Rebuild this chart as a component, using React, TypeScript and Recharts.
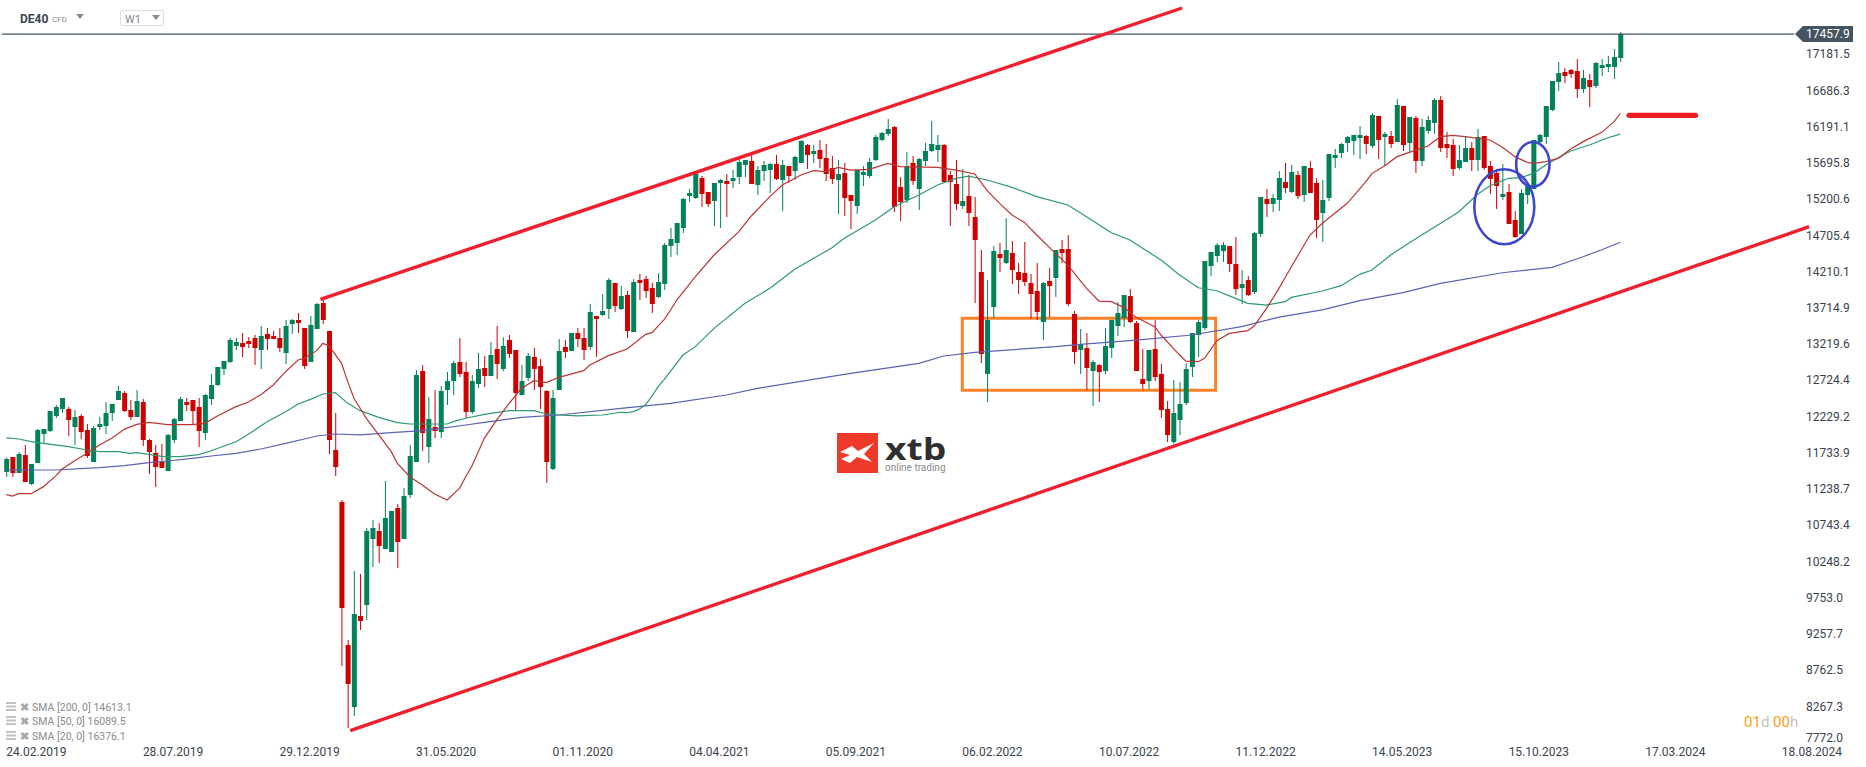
import { Bar, ComposedChart, Line, ReferenceArea, ReferenceDot, ReferenceLine, XAxis, YAxis } from "recharts";

const WIDTH = 1866;
const HEIGHT = 767;

// weekly DE40 candles
const opens = [
  11474, 11679, 11460, 11706, 11310, 11597, 11993, 12034, 12239, 12335,
  12335, 12089, 12239, 12048, 11611, 12089, 12103, 12280, 12458, 12553,
  12321, 12225, 12430, 11911, 11734, 11611, 11488, 11911, 12171, 12430,
  12458, 12362, 12007, 12471, 12663, 12881, 12977, 13196, 13237, 13264,
  13305, 13141, 13360, 13332, 13305, 13100, 13496, 13551, 13442, 12977,
  13428, 13783, 13401, 11775, 11064, 9110, 8262, 9506, 9656, 10558,
  10668, 10422, 10381, 10982, 10558, 11160, 11610, 12854, 11815, 12089,
  12020, 12594, 12717, 12977, 12841, 12294, 12676, 12895, 12786, 13155,
  12882, 13278, 13141, 12526, 12759, 13046, 12922, 12581, 11515, 12594,
  13182, 13127, 13373, 13305, 13182, 13606, 13619, 13701, 14057, 13701,
  13893, 13387, 14098, 14111, 13988, 13865, 14043, 14562, 14603, 14808,
  15245, 15218, 15491, 15300, 15177, 15423, 15450, 15450, 15505, 15669,
  15724, 15396, 15587, 15601, 15683, 15464, 15655, 15587, 15696, 15942,
  15819, 15874, 15765, 15628, 15464, 15560, 15259, 15108, 15532, 15519,
  15737, 16011, 16093, 16188, 15368, 15191, 15696, 15341, 15724, 15860,
  15874, 15942, 15532, 15409, 15108, 15245, 14958, 14207, 12813, 13728,
  14453, 14330, 14466, 14207, 14193, 14056, 13947, 13523, 14083, 14125,
  14521, 14521, 13633, 13141, 13168, 12854, 12936, 12854, 13168, 13468,
  13578, 13878, 13509, 12744, 12717, 13154, 12813, 12334, 11883, 12184,
  12416, 12908, 13346, 13441, 14288, 14425, 14493, 14562, 14316, 13988,
  14097, 13933, 14726, 15205, 15136, 15191, 15437, 15300, 15532, 15259,
  15628, 15423, 15013, 15218, 15765, 15833, 15970, 15997, 16038, 16065,
  15929, 16339, 16052, 16065, 15983, 16475, 15970, 16311, 15724, 16134,
  16243, 16557, 15956, 15942, 15628, 15710, 15901, 15737, 16065, 15655,
  15560, 15232, 15300, 14917, 14726, 15259, 15341, 15983, 16052, 16420,
  16803, 16940, 16967, 16953, 16707, 16830, 16748, 16994, 17008, 17008,
  17131,
];
const highs = [
  11674, 11679, 11747, 11843, 11583, 12062, 12062, 12307, 12390, 12485,
  12362, 12321, 12266, 12130, 12103, 12225, 12430, 12403, 12649, 12581,
  12458, 12594, 12471, 11925, 11843, 11857, 11993, 12212, 12499, 12485,
  12458, 12485, 12540, 12813, 12909, 12991, 13305, 13305, 13373, 13319,
  13346, 13469, 13442, 13401, 13442, 13551, 13565, 13647, 13442, 13606,
  13783, 13824, 13401, 12280, 11091, 9178, 10121, 10080, 10709, 10818,
  10777, 11351, 10941, 11037, 11255, 11843, 12868, 12936, 12499, 12594,
  12649, 12841, 12991, 13305, 12977, 12799, 13100, 13059, 13250, 13469,
  13314, 13346, 13141, 12936, 13100, 13169, 13018, 12594, 12594, 13291,
  13278, 13373, 13442, 13442, 13770, 13606, 13906, 14125, 14057, 14016,
  13947, 14111, 14180, 14152, 14057, 14193, 14603, 14808, 14876, 15218,
  15341, 15573, 15519, 15300, 15423, 15478, 15546, 15601, 15765, 15737,
  15806, 15655, 15724, 15696, 15806, 15737, 15655, 15792, 16011, 15956,
  15942, 16011, 15956, 15792, 15737, 15696, 15259, 15600, 15655, 15765,
  16079, 16120, 16298, 16202, 15505, 15847, 15792, 15765, 15970, 16270,
  16079, 15956, 15587, 15737, 15614, 15532, 15232, 14507, 14097, 14562,
  14603, 14945, 14630, 14330, 14617, 14180, 14330, 14070, 14261, 14507,
  14644, 14712, 13674, 13428, 13373, 13004, 12949, 13441, 13550, 13796,
  13892, 13974, 13537, 13154, 13141, 13550, 12949, 12444, 12731, 12703,
  12963, 13373, 13550, 14357, 14480, 14603, 14616, 14562, 14685, 14234,
  14152, 14753, 15232, 15341, 15273, 15587, 15696, 15669, 15587, 15655,
  15724, 15491, 15464, 15819, 15888, 15970, 16065, 16079, 16202, 16079,
  16380, 16339, 16120, 16134, 16571, 16475, 16325, 16339, 16298, 16339,
  16584, 16612, 16120, 16024, 15942, 16065, 15983, 16161, 16065, 15724,
  15614, 15683, 15409, 15040, 15341, 15396, 16011, 16093, 16475, 16817,
  17076, 16994, 16981, 17117, 16967, 16912, 17076, 17117, 17158, 17254,
  17486,
];
const lows = [
  11406, 11406, 11460, 11337, 11296, 11597, 11870, 12021, 12212, 12280,
  11966, 11843, 11925, 11665, 11611, 12048, 11993, 12171, 12458, 12294,
  12184, 12225, 11829, 11447, 11269, 11529, 11488, 11870, 12171, 12307,
  12130, 11816, 11911, 12390, 12649, 12799, 12963, 13141, 13045, 13168,
  12936, 12881, 13141, 13291, 13114, 12950, 13360, 13373, 12881, 12977,
  13428, 13496, 11720, 11419, 8823, 7976, 8140, 9315, 9451, 10176,
  10230, 10422, 10381, 10162, 10558, 11119, 11610, 11761, 11597, 11938,
  11938, 12390, 12526, 12772, 12212, 12267, 12622, 12635, 12786, 12745,
  12854, 13032, 12321, 12526, 12717, 12594, 12335, 11324, 11501, 12594,
  13032, 13127, 13182, 13004, 13141, 13045, 13606, 13565, 13660, 13688,
  13305, 13387, 13824, 13852, 13647, 13852, 13961, 14412, 14439, 14740,
  15163, 15204, 15095, 15095, 14835, 14808, 14958, 15355, 15409, 15505,
  15409, 15259, 15450, 15286, 15464, 15040, 15423, 15464, 15696, 15614,
  15696, 15628, 15450, 15409, 14999, 14972, 14794, 14999, 15382, 15491,
  15724, 15997, 16065, 15027, 14904, 15150, 15396, 15054, 15655, 15847,
  15710, 15437, 14835, 15054, 15068, 14835, 13783, 12963, 12430, 13578,
  14207, 14316, 14043, 13906, 14015, 13574, 13551, 13277, 13592, 13865,
  14330, 13742, 12950, 12813, 12594, 12375, 12430, 12813, 13031, 13332,
  13455, 13509, 12854, 12608, 12608, 12717, 12211, 11883, 11856, 11979,
  12389, 12772, 13045, 13414, 14152, 14343, 14343, 14206, 13892, 13769,
  13878, 13906, 14685, 14959, 15027, 15041, 15286, 15286, 15205, 15164,
  15286, 14672, 14617, 15177, 15628, 15765, 15847, 15806, 15751, 15819,
  15901, 15751, 15655, 15901, 15983, 15860, 15833, 15560, 15655, 16093,
  16093, 15847, 15765, 15519, 15601, 15710, 15587, 15587, 15601, 15273,
  15068, 15191, 14863, 14671, 14726, 15136, 15341, 15970, 15956, 16407,
  16680, 16789, 16858, 16584, 16653, 16461, 16721, 16885, 16940, 16844,
  17076,
];
const closes = [
  11652, 11460, 11720, 11337, 11583, 12048, 12062, 12307, 12362, 12485,
  12184, 12225, 12021, 11693, 12075, 12130, 12280, 12403, 12581, 12307,
  12225, 12444, 11911, 11747, 11542, 11529, 11980, 12198, 12471, 12390,
  12307, 12034, 12526, 12663, 12909, 12991, 13278, 13250, 13182, 13223,
  13168, 13332, 13291, 13291, 13168, 13469, 13551, 13510, 12922, 13483,
  13770, 13551, 11911, 11542, 9615, 8577, 9533, 9438, 10668, 10709,
  10463, 10845, 10941, 10517, 11146, 11692, 12799, 12007, 12198, 12034,
  12581, 12717, 12963, 12813, 12294, 12717, 12882, 12786, 13073, 12950,
  13196, 13087, 12553, 12717, 13059, 12882, 12635, 11610, 12485, 13127,
  13114, 13373, 13291, 13141, 13660, 13565, 13674, 14098, 13742, 13879,
  13401, 14070, 14057, 13947, 13770, 14070, 14576, 14658, 14876, 15204,
  15286, 15546, 15273, 15136, 15423, 15464, 15409, 15491, 15710, 15737,
  15409, 15601, 15669, 15683, 15478, 15669, 15519, 15778, 15997, 15806,
  15860, 15751, 15546, 15478, 15546, 15218, 15177, 15600, 15573, 15710,
  16052, 16106, 16161, 15095, 15163, 15655, 15450, 15751, 15860, 15956,
  15942, 15437, 15437, 15136, 15177, 15013, 14644, 13086, 13551, 14494,
  14398, 14507, 14234, 14097, 14070, 13906, 13660, 14056, 14015, 14507,
  14466, 13769, 13113, 13222, 12895, 12977, 12840, 13195, 13550, 13646,
  13892, 13523, 12854, 12676, 13141, 12772, 12321, 11979, 12280, 12403,
  12881, 13373, 13523, 14357, 14480, 14575, 14575, 14316, 13974, 14042,
  13892, 14739, 15232, 15136, 15218, 15491, 15355, 15573, 15245, 15655,
  15286, 14918, 15191, 15819, 15806, 15956, 16052, 16079, 16079, 15956,
  16352, 16011, 16093, 15956, 16489, 15942, 16325, 15724, 16188, 16284,
  16557, 15901, 15901, 15614, 15737, 15901, 15737, 16052, 15628, 15478,
  15382, 15273, 14863, 14685, 15286, 15396, 16011, 16079, 16475, 16817,
  16926, 16885, 16912, 16707, 16858, 16735, 17063, 17035, 17049, 17145,
  17458,
];

// moving averages: candle index and the value read there
const sma20Index = [0, 1, 2, 4, 6, 8, 9, 11, 13, 15, 17, 19, 21, 23, 26, 30, 32, 34, 37, 39, 41, 43, 45, 47, 48, 50, 51, 52, 54, 55, 56, 58, 60, 62, 63, 65, 67, 69, 71, 73, 74, 75, 77, 79, 81, 83, 85, 87, 89, 93, 94, 97, 100, 103, 104, 106, 107, 108, 111, 114, 118, 120, 123, 125, 128, 130, 132, 134, 136, 139, 142, 144, 150, 153, 156, 158, 160, 162, 164, 166, 169, 171, 173, 174, 176, 178, 180, 182, 185, 186, 189, 190, 192, 193, 195, 197, 200, 201, 203, 205, 207, 210, 212, 214, 216, 219, 220, 222, 224, 226, 229, 231, 233, 235, 239, 241, 243, 245, 246, 248, 250, 252, 254, 257, 259, 260];
const sma20Values = [11164, 11146, 11178, 11178, 11274, 11424, 11515, 11629, 11729, 11843, 11934, 12057, 12125, 12153, 12121, 12121, 12139, 12239, 12367, 12431, 12531, 12663, 12845, 13004, 13027, 13132, 13232, 13196, 12959, 12709, 12481, 12207, 11980, 11752, 11593, 11410, 11297, 11174, 11092, 11251, 11410, 11556, 11934, 12185, 12413, 12618, 12722, 12695, 12768, 12859, 12936, 13064, 13155, 13355, 13378, 13560, 13688, 13824, 14143, 14439, 14758, 14972, 15236, 15396, 15532, 15592, 15578, 15637, 15600, 15610, 15692, 15646, 15637, 15600, 15546, 15318, 15145, 14985, 14885, 14712, 14462, 14302, 14088, 13983, 13810, 13801, 13724, 13587, 13459, 13346, 13072, 12990, 12981, 13027, 13268, 13368, 13405, 13468, 13710, 13983, 14279, 14712, 14872, 15009, 15145, 15441, 15555, 15655, 15783, 15842, 15929, 16056, 16074, 16056, 16011, 15910, 15783, 15705, 15692, 15714, 15760, 15888, 15988, 16115, 16261, 16376];
const sma50Index = [0, 2, 4, 6, 10, 13, 15, 18, 20, 21, 23, 25, 28, 31, 33, 37, 39, 42, 45, 47, 49, 51, 53, 55, 57, 60, 63, 65, 71, 72, 74, 77, 81, 85, 87, 89, 92, 96, 99, 100, 101, 102, 103, 104, 105, 106, 109, 111, 114, 119, 123, 127, 133, 135, 140, 143, 147, 150, 153, 155, 158, 162, 166, 171, 174, 178, 181, 186, 189, 192, 195, 198, 200, 203, 206, 207, 212, 215, 218, 220, 223, 226, 228, 231, 234, 237, 239, 242, 244, 246, 248, 250, 252, 255, 258, 260];
const sma50Values = [11939, 11925, 11888, 11866, 11820, 11775, 11752, 11752, 11729, 11738, 11715, 11688, 11683, 11711, 11765, 11888, 11989, 12162, 12298, 12403, 12467, 12540, 12558, 12412, 12312, 12221, 12148, 12130, 12130, 12162, 12208, 12262, 12312, 12312, 12267, 12253, 12240, 12253, 12290, 12284, 12300, 12335, 12395, 12510, 12640, 12740, 13072, 13187, 13437, 13779, 13984, 14243, 14539, 14667, 14917, 15099, 15259, 15395, 15487, 15518, 15464, 15364, 15236, 15122, 14963, 14744, 14644, 14370, 14165, 13992, 13951, 13847, 13778, 13755, 13801, 13860, 13947, 14020, 14175, 14234, 14438, 14607, 14712, 14871, 15031, 15268, 15386, 15487, 15496, 15555, 15669, 15769, 15860, 15942, 16042, 16090];
const sma200Index = [0, 8, 15, 19, 23, 26, 31, 33, 37, 41, 45, 48, 50, 53, 57, 62, 67, 70, 74, 77, 83, 89, 99, 107, 116, 121, 136, 147, 151, 156, 169, 173, 182, 191, 199, 205, 212, 218, 225, 231, 241, 249, 254, 257, 260];
const sma200Values = [11501, 11501, 11533, 11561, 11601, 11624, 11670, 11693, 11729, 11788, 11866, 11925, 11966, 11993, 11980, 12012, 12039, 12071, 12116, 12153, 12221, 12253, 12344, 12412, 12526, 12617, 12822, 12959, 13059, 13109, 13186, 13218, 13277, 13346, 13460, 13590, 13690, 13815, 13924, 14052, 14197, 14270, 14416, 14510, 14613];

const priceTicks = [17457.9, 17181.5, 16686.3, 16191.1, 15695.8, 15200.6, 14705.4, 14210.1, 13714.9, 13219.6, 12724.4, 12229.2, 11733.9, 11238.7, 10743.4, 10248.2, 9753.0, 9257.7, 8762.5, 8267.3, 7772.0];
const LAST_PRICE = 17457.9;
const dateTicks = [0, 22, 44, 66, 88, 110, 132, 154, 176, 198, 220, 242, 264, 286];
const dateLabels = ["24.02.2019", "28.07.2019", "29.12.2019", "31.05.2020", "01.11.2020", "04.04.2021", "05.09.2021", "06.02.2022", "10.07.2022", "11.12.2022", "14.05.2023", "15.10.2023", "17.03.2024", "18.08.2024"];
const legendRows = [
  ["SMA [200, 0]", "14613.1"],
  ["SMA [50, 0]", "16089.5"],
  ["SMA [20, 0]", "16376.1"],
];

// drawn annotations, in candle index / price
const priceLine = [{ x: -0.7, y: LAST_PRICE }, { x: 288, y: LAST_PRICE }];
const upperChannel = [{ x: 50.6, y: 13834 }, { x: 189.4, y: 17814 }];
const lowerChannel = [{ x: 55.4, y: 7939 }, { x: 290.4, y: 14826 }];
const targetMark = [{ x: 261.4, y: 16348 }, { x: 272.1, y: 16348 }];
const rangeBox = { x1: 154, x2: 194.8, y1: 12590, y2: 13574 };
const bigCircle = { x: 241.3, y: 15099 };
const smallCircle = { x: 245.9, y: 15678 };

const GREEN = "#03815a";
const RED = "#cf0000";
const INK = "#3a444e";
const FONT = "Roboto, sans-serif";

const table = opens.map((open, i) => ({
  i,
  open,
  close: closes[i],
  range: [lows[i], highs[i]],
  sma20: sma20Index.includes(i) ? sma20Values[sma20Index.indexOf(i)] : null,
  sma50: sma50Index.includes(i) ? sma50Values[sma50Index.indexOf(i)] : null,
  sma200: sma200Index.includes(i) ? sma200Values[sma200Index.indexOf(i)] : null,
}));

// wick is the bar itself, the body is placed inside it by price proportion
function Candle(props: any) {
  const { x, y, width, height, payload } = props;
  const [low, high] = payload.range;
  const perUnit = height / (high - low);
  const top = y + (high - Math.max(payload.open, payload.close)) * perUnit;
  const bottom = y + (high - Math.min(payload.open, payload.close)) * perUnit;
  const fill = payload.close >= payload.open ? GREEN : RED;
  return (
    <g>
      <rect x={x + width / 2 - 0.5} y={y} width={1} height={height} fill={fill} />
      <rect x={x} y={top} width={width} height={Math.max(bottom - top, 1)} fill={fill} />
    </g>
  );
}

function PriceTick({ x, y, payload }: any) {
  if (payload.value === LAST_PRICE) {
    return (
      <g>
        <polygon
          points={`${x - 11},${y} ${x - 3},${y - 8} ${x + 47},${y - 8} ${x + 47},${y + 8} ${x - 3},${y + 8}`}
          fill="#46545f"
        />
        <text x={x} y={y + 4} fill="#fff" fontSize={12} fontFamily={FONT}>
          {payload.value.toFixed(1)}
        </text>
      </g>
    );
  }
  const shift = payload.value === 7772 ? -5 : 0;
  return (
    <text x={x} y={y + 4 + shift} fill={INK} fontSize={12} fontFamily={FONT}>
      {payload.value.toFixed(1)}
    </text>
  );
}

function DateTick({ x, y, payload }: any) {
  return (
    <text x={x} y={y + 8} fill={INK} fontSize={12} fontFamily={FONT} textAnchor="start">
      {dateLabels[dateTicks.indexOf(payload.value)]}
    </text>
  );
}

function Header() {
  return (
    <div style={{ position: "absolute", left: 0, top: 0, fontFamily: FONT }}>
      <span style={{ position: "absolute", left: 20, top: 12, fontSize: 12, fontWeight: 700, color: "#3d4650" }}>DE40</span>
      <span style={{ position: "absolute", left: 52, top: 15, fontSize: 8, color: "#8a8f94" }}>CFD</span>
      <svg style={{ position: "absolute", left: 76, top: 14 }} width={9} height={6}>
        <polygon points="0,0 8,0 4,5" fill="#8a8a8a" />
      </svg>
      <div style={{ position: "absolute", left: 120, top: 10, width: 42, height: 14, border: "1px solid #dcdfe2", borderRadius: 2 }} />
      <span style={{ position: "absolute", left: 125, top: 13, fontSize: 11, color: "#7f868c" }}>W1</span>
      <svg style={{ position: "absolute", left: 152, top: 15 }} width={9} height={6}>
        <polygon points="0,0 8,0 4,5" fill="#8a8a8a" />
      </svg>
    </div>
  );
}

function IndicatorLegend() {
  return (
    <div style={{ position: "absolute", left: 0, top: 0, fontFamily: FONT, fontSize: 10.5, color: "#8b8b8b" }}>
      {legendRows.map(([name, value], row) => (
        <div key={name} style={{ position: "absolute", left: 6, top: 701 + row * 14.3, whiteSpace: "nowrap", height: 14, lineHeight: "14px" }}>
          <svg width={10} height={9} style={{ marginRight: 4 }}>
            <rect width={10} height={2} fill="#c2c2c2" />
            <rect y={3.5} width={10} height={2} fill="#c2c2c2" />
            <rect y={7} width={10} height={2} fill="#c2c2c2" />
          </svg>
          <span style={{ color: "#aaa", fontWeight: 700, marginRight: 3 }}>✖</span>
          {name} {value}
        </div>
      ))}
    </div>
  );
}

function Countdown() {
  return (
    <div style={{ position: "absolute", left: 1744, top: 713, fontFamily: FONT, fontSize: 15, lineHeight: "18px", color: "#ff9b0f", whiteSpace: "nowrap" }}>
      01<span style={{ color: "#c4c4c4" }}>d</span> 00<span style={{ color: "#c4c4c4" }}>h</span>
    </div>
  );
}

function Logo() {
  return (
    <div style={{ position: "absolute", left: 837, top: 433 }}>
      <svg width={41} height={40} style={{ position: "absolute", left: 0, top: 0 }}>
        <rect width={41} height={40} fill="#ef3a2b" />
        <polygon points="3,19 15,13 21,18 37,10 27,21 35,29 20,24 13,30 4,26 13,22" fill="#fff" />
      </svg>
      <span style={{ position: "absolute", left: 48, top: 2, fontFamily: "'Open Sans', sans-serif", fontWeight: 700, fontSize: 31, lineHeight: "26px", color: "#2f2f2f", transform: "scaleX(1.2)", transformOrigin: "left" }}>xtb</span>
      <span style={{ position: "absolute", left: 48, top: 29, fontFamily: FONT, fontSize: 10, lineHeight: "12px", color: "#8a8a8a", whiteSpace: "nowrap" }}>online trading</span>
    </div>
  );
}

export default function App() {
  return (
    <div style={{ position: "absolute", left: 0, top: 0, width: WIDTH, height: HEIGHT, background: "#fff", overflow: "hidden" }}>
      <ComposedChart width={WIDTH} height={HEIGHT} data={table} margin={{ top: 0, right: 0, bottom: 0, left: 0 }}>
        <XAxis
          dataKey="i"
          type="number"
          domain={[-1.015, 289.9]}
          ticks={dateTicks}
          interval={0}
          height={21}
          tick={<DateTick />}
          tickLine={false}
          axisLine={false}
          tickSize={0}
          allowDataOverflow
        />
        <YAxis
          orientation="right"
          width={60}
          domain={[7730, 17923.5]}
          ticks={priceTicks}
          interval={0}
          tick={<PriceTick />}
          tickLine={false}
          axisLine={false}
          tickSize={0}
          tickMargin={0}
          allowDataOverflow
        />
        <ReferenceLine segment={priceLine} stroke="#46545f" strokeWidth={1.3} ifOverflow="visible" />
        <Bar dataKey="range" barSize={5} shape={<Candle />} isAnimationActive={false} />
        <Line dataKey="sma200" stroke="#5a62b4" strokeWidth={1.2} dot={false} activeDot={false} connectNulls isAnimationActive={false} />
        <Line dataKey="sma50" stroke="#2f9877" strokeWidth={1.2} dot={false} activeDot={false} connectNulls isAnimationActive={false} />
        <Line dataKey="sma20" stroke="#bb3636" strokeWidth={1.2} dot={false} activeDot={false} connectNulls isAnimationActive={false} />
        <ReferenceLine segment={upperChannel} stroke="#f01f2d" strokeWidth={3.4} ifOverflow="visible" />
        <ReferenceLine segment={lowerChannel} stroke="#f01f2d" strokeWidth={3.4} ifOverflow="visible" />
        <ReferenceLine segment={targetMark} stroke="#ee1c25" strokeWidth={5.2} strokeLinecap="round" ifOverflow="visible" />
        <ReferenceArea {...rangeBox} fill="none" stroke="#fb8128" strokeWidth={3} ifOverflow="visible" />
        <ReferenceDot
          x={bigCircle.x}
          y={bigCircle.y}
          r={30}
          ifOverflow="visible"
          shape={(p: any) => <ellipse cx={p.cx} cy={p.cy} rx={30} ry={37.5} fill="none" stroke="#3f48cc" strokeWidth={2.6} />}
        />
        <ReferenceDot
          x={smallCircle.x}
          y={smallCircle.y}
          r={16}
          ifOverflow="visible"
          shape={(p: any) => <ellipse cx={p.cx} cy={p.cy} rx={16.7} ry={22.3} fill="none" stroke="#3f48cc" strokeWidth={2.6} />}
        />
      </ComposedChart>
      <Header />
      <IndicatorLegend />
      <Countdown />
      <Logo />
    </div>
  );
}
